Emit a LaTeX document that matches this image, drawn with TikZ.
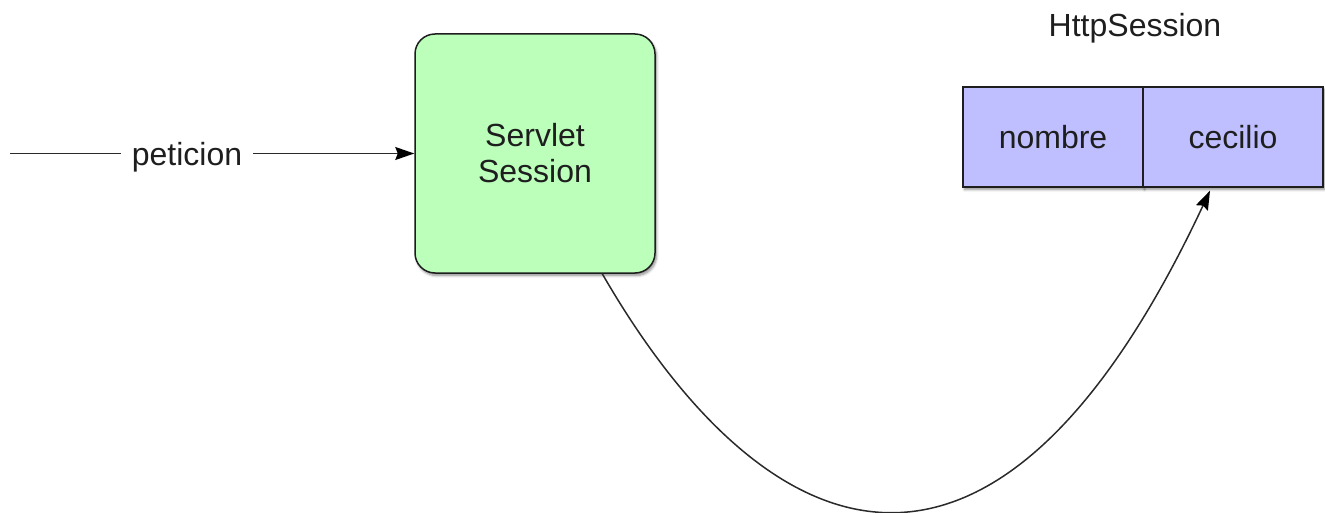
\documentclass[tikz,border=0pt]{standalone}
\usepackage{fontspec}
\setmainfont{Liberation Sans}
\usetikzlibrary{arrows.meta,shadows.blur}
\definecolor{servletgreen}{HTML}{BBFFBB}
\definecolor{sessionblue}{HTML}{BFBFFF}
\definecolor{ink}{HTML}{1E1E1E}
\definecolor{wire}{HTML}{2A2A2A}
\tikzset{
  label text/.style={font=\fontsize{32}{36}\selectfont, text=ink},
  softshadow/.style={blur shadow={shadow xshift=1.5pt, shadow yshift=-2.5pt,
      shadow blur radius=2.5pt, shadow blur steps=6, shadow opacity=45}},
  servletbox/.style={label text, draw=ink, line width=1.5pt, fill=servletgreen,
      rounded corners=20pt, minimum width=240pt, minimum height=239pt,
      align=center, inner sep=0pt, softshadow},
  cellbox/.style={label text, draw=ink, line width=1.3pt, fill=sessionblue,
      minimum width=180pt, minimum height=100pt, inner sep=0pt, softshadow},
  wireline/.style={draw=wire, line width=1.5pt},
  arrowhead/.style={-{Stealth[length=19pt, width=13pt, inset=2.5pt, color=black]}},
}
\begin{document}
\begin{tikzpicture}[x=1pt, y=-1pt]
  \useasboundingbox (0,0) rectangle (1325,513);

  % servlet that handles the request
  \node[servletbox] (servlet) at (535,153.5) {Servlet\\Session};

  % session table with one attribute
  \node[cellbox] (nombre) at (1053,137) {nombre};
  \node[cellbox] (cecilio) at (1233,137) {cecilio};
  \node[label text, anchor=base] (title) at (1135,37) {HttpSession};

  % incoming request
  \coordinate (source) at (10,153.5);
  \node[label text, anchor=base, inner xsep=11pt] (peticion) at (187,166) {peticion};
  \draw[wireline] (source) -- (source -| peticion.west);
  \draw[wireline, arrowhead] (peticion.east |- servlet.west) -- (servlet.west);

  % servlet stores the value in the session
  \draw[wireline, arrowhead]
    ([xshift=188pt]servlet.south west)
      .. controls (760,547) and (990,660) ..
    ([xshift=-23pt, yshift=-3pt]cecilio.south);
\end{tikzpicture}
\end{document}
